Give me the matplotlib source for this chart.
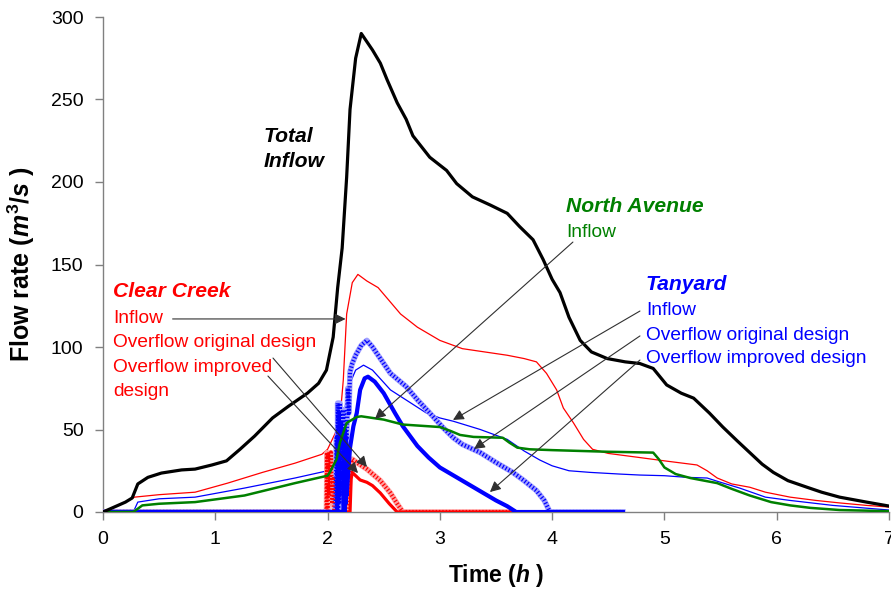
import matplotlib
matplotlib.use("Agg")
import matplotlib.pyplot as plt

plt.rcParams['font.family'] = ['Liberation Sans', 'DejaVu Sans']
plt.rcParams['mathtext.fontset'] = 'custom'
plt.rcParams['mathtext.it'] = 'Liberation Sans:italic:bold'
plt.rcParams['mathtext.rm'] = 'Liberation Sans:bold'
plt.rcParams['mathtext.bf'] = 'Liberation Sans:bold'

# ---------------- data ----------------
total_x = [0, 0.1, 0.2, 0.26, 0.31, 0.4, 0.52, 0.7, 0.82, 0.97, 1.1, 1.22, 1.35, 1.51, 1.65, 1.82, 1.92,
           1.99, 2.05, 2.09, 2.13, 2.17, 2.2, 2.25, 2.3, 2.35, 2.4, 2.47, 2.53, 2.62, 2.7, 2.76, 2.91,
           3.06, 3.15, 3.29, 3.45, 3.6, 3.71, 3.83, 3.92, 4.0, 4.07, 4.15, 4.25, 4.35, 4.49, 4.65, 4.78,
           4.9, 5.02, 5.15, 5.26, 5.4, 5.52, 5.65, 5.76, 5.87, 5.97, 6.1, 6.27, 6.4, 6.56, 6.8, 7.0]
total_y = [0, 3, 6, 8.5, 17, 21, 23.6, 25.5, 26, 28.5, 31, 38, 46, 57, 64, 72, 78,
           86, 106, 136, 160, 203, 244, 275, 290, 285, 280, 272, 262, 248, 238, 228, 215,
           207, 199, 191, 186, 181, 173, 165, 153, 141, 133, 118, 104, 97, 93, 91, 90,
           87, 77, 72, 69, 60, 51.5, 43, 36, 29, 24, 19, 15, 12, 9, 6, 3.6]

cc_in_x = [0, 0.1, 0.2, 0.28, 0.5, 0.82, 1.11, 1.42, 1.71, 1.95, 2.0, 2.07, 2.11, 2.14, 2.17, 2.22, 2.27,
           2.35, 2.45, 2.55, 2.65, 2.8, 3.0, 3.2, 3.4, 3.6, 3.75, 3.86, 3.95, 4.04, 4.1, 4.19, 4.28,
           4.36, 4.5, 4.78, 5.0, 5.29, 5.38, 5.47, 5.6, 5.76, 5.9, 6.12, 6.35, 6.56, 6.8, 7.0]
cc_in_y = [0, 3, 6, 9, 10.5, 12, 17.5, 24, 29.6, 35, 38, 48, 56, 80, 120, 139, 144,
           140, 136, 128, 120, 112, 104, 99, 97, 95, 93, 91, 84, 74, 63, 54, 44,
           38, 35.5, 33, 31, 28.5, 25, 20.6, 17, 15, 12, 9, 7, 5.5, 4, 3]

cc_orig_x = [0, 1.99, 1.995, 2.0, 2.005, 2.01, 2.02, 2.03, 2.04, 2.05, 2.06, 2.18, 2.2, 2.22, 2.26,
             2.35, 2.47, 2.56, 2.62, 2.67, 3.65]
cc_orig_y = [0, 0, 36, 0, 35, 10, 15, 36, 5, 20, 0, 0, 25, 32, 30,
             26, 19, 11.5, 5, 0, 0]

cc_impr_x = [0, 2.2, 2.21, 2.22, 2.25, 2.29, 2.35, 2.4, 2.47, 2.55, 2.62, 3.65]
cc_impr_y = [0, 0, 20, 24, 22, 19.4, 18, 16, 11.5, 5, 0, 0]

na_in_x = [0, 0.27, 0.35, 0.5, 0.82, 1.26, 1.71, 2.0, 2.02, 2.08, 2.11, 2.17, 2.26, 2.3, 2.5, 2.67,
           3.0, 3.1, 3.18, 3.3, 3.56, 3.62, 3.69, 3.8, 4.0, 4.5, 4.9, 4.95, 5.0, 5.1, 5.23, 5.47,
           5.6, 5.76, 5.95, 6.12, 6.3, 6.56, 7.0]
na_in_y = [0, 0, 4, 5, 6, 10, 17.5, 22, 24, 32, 42, 54, 57.6, 58, 56, 53,
           51.5, 49, 46.7, 45.5, 45, 42, 39, 38, 37.5, 36.5, 36, 32, 27, 23, 20.6, 17.5,
           14, 10, 6, 4, 2.5, 1.2, 0.5]

ty_in_x = [0.27, 0.31, 0.5, 0.82, 1.26, 1.71, 2.0, 2.08, 2.12, 2.16, 2.2, 2.25, 2.32, 2.4, 2.56,
           2.88, 3.0, 3.12, 3.36, 3.6, 3.75, 3.89, 4.0, 4.15, 4.34, 4.6, 4.78, 5.0, 5.2, 5.38,
           5.5, 5.67, 5.9, 6.12, 6.5, 7.0]
ty_in_y = [0, 6, 8, 9, 14.5, 20.6, 25, 30, 45, 65, 78, 86, 89, 86, 74,
           60, 57, 55, 50, 44, 37, 31.5, 28, 25, 24, 23, 22.4, 22, 21, 20.6,
           18, 14.5, 9, 7, 4, 1.2]

ty_orig_x = [0, 2.07, 2.08, 2.085, 2.09, 2.095, 2.10, 2.105, 2.11, 2.115, 2.12, 2.13, 2.14, 2.15,
             2.16, 2.17, 2.18, 2.19, 2.2, 2.22, 2.25, 2.3, 2.35, 2.4, 2.5, 2.56, 2.7, 2.8, 2.91,
             3.03, 3.12, 3.2, 3.36, 3.5, 3.65, 3.75, 3.86, 3.93, 3.98, 4.63]
ty_orig_y = [0, 0, 45, 0, 66, 0, 60, 5, 66, 10, 55, 15, 62, 30,
             50, 45, 75, 60, 85, 90, 95, 101, 104, 100, 90, 84, 76, 68, 60,
             51, 45, 41, 36, 30, 24, 19, 13, 7, 0, 0]

ty_impr_x = [0, 2.14, 2.145, 2.15, 2.155, 2.16, 2.165, 2.17, 2.18, 2.2, 2.23, 2.26, 2.29, 2.33,
             2.36, 2.42, 2.5, 2.6, 2.67, 2.8, 2.9, 3.0, 3.15, 3.3, 3.4, 3.5, 3.6, 3.68, 4.63]
ty_impr_y = [0, 0, 40, 0, 50, 5, 45, 10, 20, 39, 52, 60, 74, 81,
             82, 79, 72, 60, 52, 40, 33, 27, 21, 15, 11, 7, 3.5, 0, 0]

x_ticks = [0, 1, 2, 3, 4, 5, 6, 7]
y_ticks = [0, 50, 100, 150, 200, 250, 300]

RED, BLUE, GREEN = '#ff0000', '#0000ff', '#008000'

# ---------------- figure ----------------
fig = plt.figure(figsize=(8.91, 5.92), dpi=100)
ax = fig.add_axes([103 / 891, 1 - 512 / 592, 786 / 891, 495 / 592])


def hatched(x, y, dark, light):
    ax.plot(x, y, color=light, lw=4.0, solid_joinstyle='round', zorder=3)
    ax.plot(x, y, color=dark, lw=3.0, ls=(0, (0.3, 0.5)), zorder=3.1)


ax.plot(cc_in_x, cc_in_y, color=RED, lw=0.9, zorder=2)
hatched(cc_orig_x, cc_orig_y, RED, '#ffa0a0')
ax.plot(cc_impr_x, cc_impr_y, color=RED, lw=2.3, zorder=3.2)
ax.plot(ty_in_x, ty_in_y, color=BLUE, lw=0.9, zorder=2)
hatched(ty_orig_x, ty_orig_y, BLUE, '#a0a0ff')
ax.plot(ty_impr_x, ty_impr_y, color=BLUE, lw=3.0, zorder=3.3)
ax.plot(na_in_x, na_in_y, color=GREEN, lw=1.8, zorder=3.4)
ax.plot(total_x, total_y, color='black', lw=2.3, zorder=4)

ax.set_xlim(0, 7)
ax.set_ylim(0, 300)
ax.set_xticks(x_ticks)
ax.set_yticks(y_ticks)
for s in ['top', 'right']:
    ax.spines[s].set_visible(False)
for s in ['left', 'bottom']:
    ax.spines[s].set_color('#808080')
    ax.spines[s].set_linewidth(1.0)
ax.tick_params(axis='both', direction='out', length=6, width=1, color='#808080',
               labelsize=14, pad=8)
ax.set_xlabel('Time ($h$ )', fontsize=16.5, fontweight='bold', labelpad=10)
ax.set_ylabel('Flow rate ($m^3/s$ )', fontsize=18, fontweight='bold', labelpad=10)

# ---------------- labels ----------------
BI = dict(fontsize=15.2, fontweight='bold', fontstyle='italic', va='baseline', ha='left')
RG = dict(fontsize=13.8, va='baseline', ha='left')

ax.text(1.43, 224.4, 'Total', color='black', **BI)
ax.text(1.43, 209.3, 'Inflow', color='black', **BI)

ax.text(0.089, 130.5, 'Clear Creek', color=RED, **BI)
ax.text(0.089, 114.5, 'Inflow', color=RED, **RG)
ax.text(0.089, 100.0, 'Overflow original design', color=RED, **RG)
ax.text(0.089, 84.8, 'Overflow improved', color=RED, **RG)
ax.text(0.089, 70.5, 'design', color=RED, **RG)

ax.text(4.123, 182.0, 'North Avenue', color=GREEN, **BI)
ax.text(4.123, 166.8, 'Inflow', color=GREEN, **RG)

ax.text(4.835, 134.5, 'Tanyard', color=BLUE, **BI)
ax.text(4.835, 119.4, 'Inflow', color=BLUE, **RG)
ax.text(4.835, 104.2, 'Overflow original design', color=BLUE, **RG)
ax.text(4.835, 90.1, 'Overflow improved design', color=BLUE, **RG)

# ---------------- arrows ----------------
arrows = [((0.62, 117.0), (2.16, 117.0)),
          ((1.514, 93.3), (2.351, 27.3)),
          ((1.469, 82.4), (2.271, 23.6)),
          ((4.185, 163.6), (2.422, 56.4)),
          ((4.782, 121.8), (3.117, 55.8)),
          ((4.782, 106.7), (3.304, 38.2)),
          ((4.782, 92.1), (3.446, 12.1))]
for start, end in arrows:
    ax.annotate('', xy=end, xytext=start,
                arrowprops=dict(arrowstyle='-|>', color='#303030', lw=0.8,
                                mutation_scale=16, shrinkA=0, shrinkB=0),
                zorder=5)

fig.savefig('out.png', dpi=100)
